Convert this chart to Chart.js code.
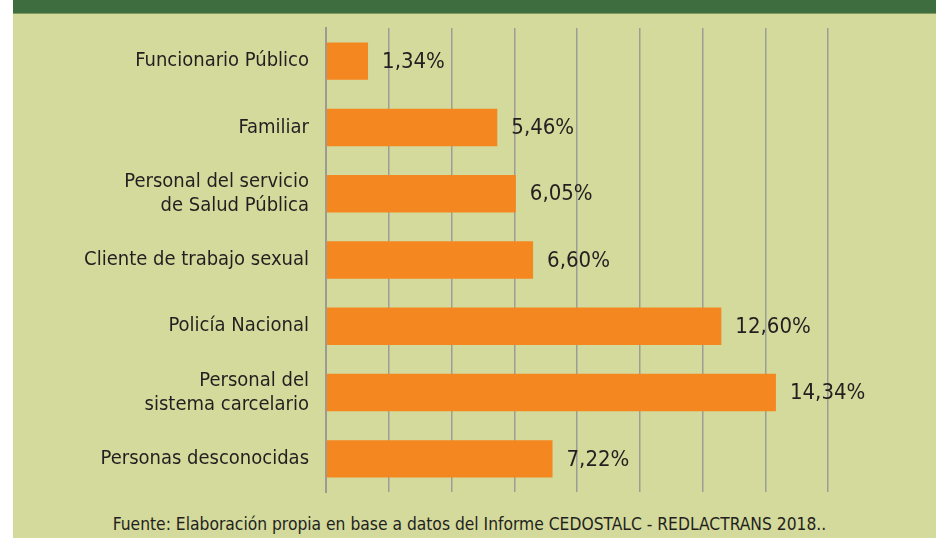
<!DOCTYPE html>
<html>
<head>
<meta charset="utf-8">
<script src="https://cdn.jsdelivr.net/npm/chart.js@4"></script>
<style>
  html, body { margin: 0; padding: 0; background: #ffffff; }
  #wrap { position: absolute; left: 13px; top: 0; width: 923px; height: 538px; background: #d3da9b; overflow: hidden; }
  #band { position: absolute; left: 0; top: 0; width: 100%; height: 13px; background: #3e6d40; border-bottom: 1px solid #7f9a5c; }
  #box { position: absolute; left: 0; top: 14px; width: 923px; height: 486px; }
  #fuente { position: absolute; left: 0; width: 913px; top: 514px; text-align: center;
    font-family: 'Liberation Sans Narrow', 'DejaVu Sans Condensed', sans-serif; font-size: 17.3px; color: #231f20; white-space: nowrap; }
</style>
</head>
<body>
<div id="wrap">
  <div id="band"></div>
  <div id="box"><canvas id="chart"></canvas></div>
  <div id="fuente">Fuente: Elaboración propia en base a datos del Informe CEDOSTALC - REDLACTRANS 2018..</div>
</div>
<script>
// categorias (de arriba a abajo)
const categorias = [
    'Funcionario Público',
    'Familiar',
    ['Personal del servicio', 'de Salud Pública'],
    'Cliente de trabajo sexual',
    'Policía Nacional',
    ['Personal del', 'sistema carcelario'],
    'Personas desconocidas'
];
// porcentajes
const valores = [1.34, 5.46, 6.05, 6.60, 12.60, 14.34, 7.22];
// eje x: 0 a 16, lineas cada 2
const ejeMin = 0;
const ejeMax = 16;
const ejePaso = 2;

const fuente = "'Liberation Sans Narrow', 'DejaVu Sans Condensed', sans-serif";

// etiquetas de valor al final de cada barra
const etiquetasValor = {
    id: 'etiquetasValor',
    afterDatasetsDraw(chart) {
        const ctx = chart.ctx;
        const meta = chart.getDatasetMeta(0);
        ctx.save();
        ctx.font = '22px ' + fuente;
        ctx.fillStyle = '#231f20';
        ctx.textAlign = 'left';
        ctx.textBaseline = 'middle';
        meta.data.forEach((bar, i) => {
            const txt = valores[i].toFixed(2).replace('.', ',') + '%';
            ctx.fillText(txt, bar.x + 14, bar.y + 1);
        });
        ctx.restore();
    }
};

new Chart(document.getElementById('chart'), {
    type: 'bar',
    data: {
        labels: categorias,
        datasets: [{
            data: valores,
            backgroundColor: '#f58720',
            borderWidth: 0,
            barPercentage: 0.565,
            categoryPercentage: 1
        }]
    },
    options: {
        indexAxis: 'y',
        responsive: true,
        maintainAspectRatio: false,
        animation: false,
        layout: { padding: { top: 14, right: 108, bottom: 8, left: 0 } },
        plugins: {
            legend: { display: false },
            tooltip: { enabled: false }
        },
        scales: {
            x: {
                min: ejeMin,
                max: ejeMax,
                ticks: { display: false, stepSize: ejePaso },
                grid: { color: '#9b9e96', lineWidth: 1.5, drawTicks: false },
                border: { display: false },
                afterFit(scale) { scale.height = 0; }
            },
            y: {
                grid: { display: false, drawTicks: false },
                border: { display: true, color: '#999b94', width: 2 },
                ticks: {
                    color: '#231f20',
                    padding: 17,
                    font: { family: fuente, size: 20, lineHeight: 1.22 }
                },
                afterFit(scale) {
                    scale.width = 313;
                    scale.paddingTop = 0;
                    scale.paddingBottom = 0;
                }
            }
        }
    },
    plugins: [etiquetasValor]
});
</script>
</body>
</html>
